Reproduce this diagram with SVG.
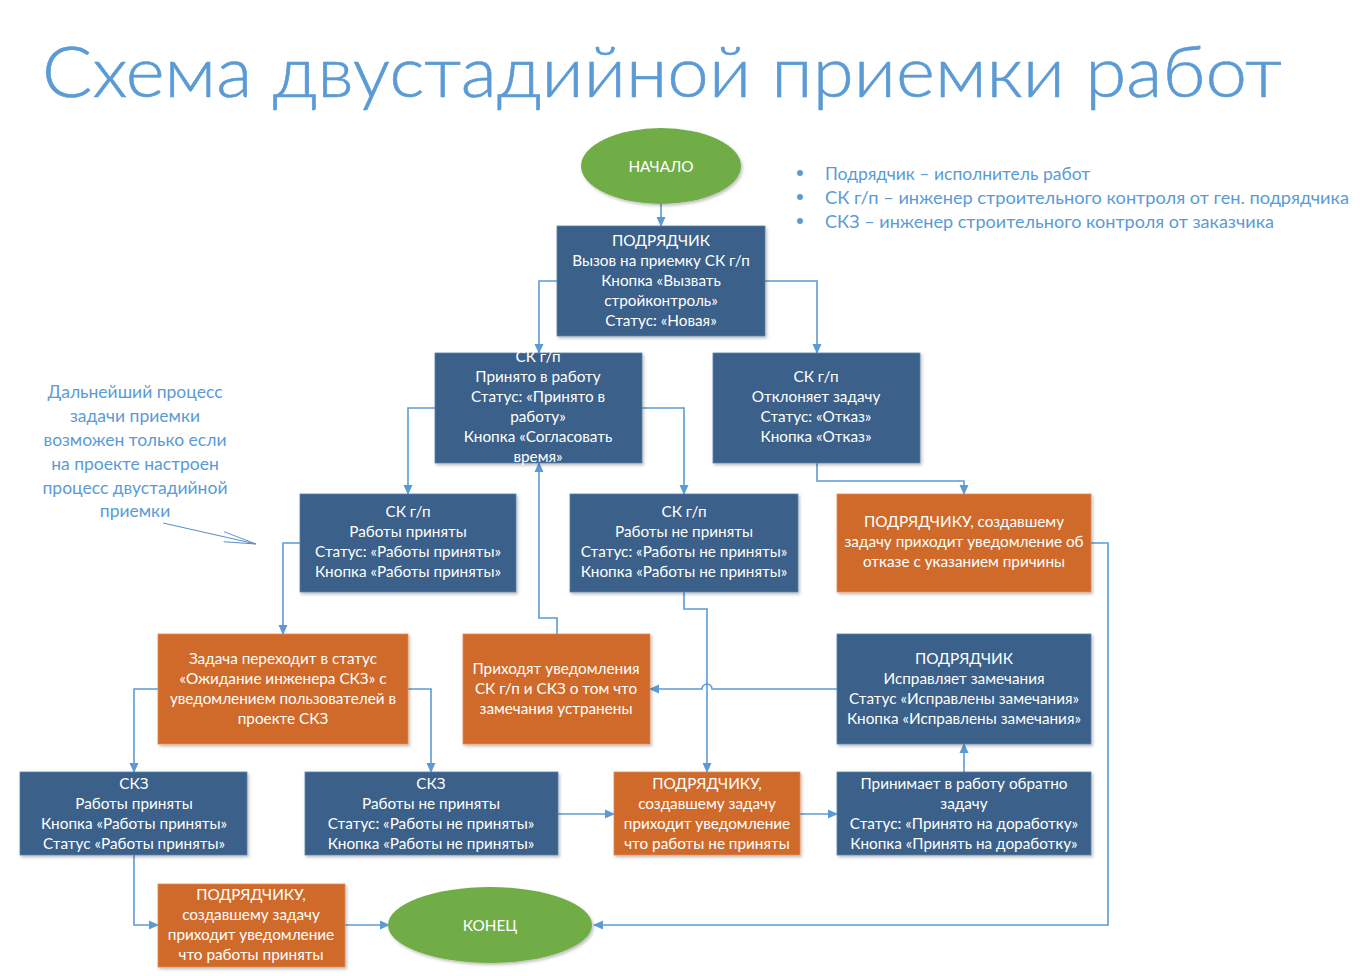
<svg xmlns="http://www.w3.org/2000/svg" width="1360" height="976" viewBox="0 0 1360 976">
<style>
.t{font-family:Lato,"Open Sans","Liberation Sans",sans-serif;fill:#fff;font-size:15.3px;text-anchor:middle;dominant-baseline:central}
.b{fill:#3A6189;stroke:#5a80aa;stroke-width:0.8}
.o{fill:#D06A2B;stroke:#e08a55;stroke-width:0.8}
.g{fill:#70AD47}
.c{fill:none;stroke:#5B9BD5;stroke-width:1.6}
.lg{font-family:Lato,"Open Sans","Liberation Sans",sans-serif;fill:#5B9BD5;font-size:17.5px}
</style>
<defs>
<marker id="ah" markerWidth="10" markerHeight="10" refX="9" refY="5" orient="auto" markerUnits="userSpaceOnUse">
<path d="M0,0.5 L10,5 L0,9.5 Z" fill="#5B9BD5"/>
</marker>
<marker id="oa" markerWidth="36" markerHeight="12" refX="34" refY="6" orient="auto" markerUnits="userSpaceOnUse">
<path d="M0,1 L34,6 L2,11" fill="none" stroke="#5B8CC5" stroke-width="1"/>
</marker>
<filter id="sh" x="-10%" y="-10%" width="130%" height="130%">
<feDropShadow dx="1.5" dy="2" stdDeviation="1.5" flood-color="#000" flood-opacity="0.25"/>
</filter>
</defs>
<rect width="1360" height="976" fill="#fff"/>
<text x="42" y="97" font-family="Lato,'Open Sans','Liberation Sans',sans-serif" font-weight="300" font-size="70" fill="#5B9BD5" stroke="#5B9BD5" stroke-width="0.6" textLength="1240" lengthAdjust="spacingAndGlyphs">Схема двустадийной приемки работ</text>

<g id="legend">
<circle cx="800" cy="173" r="3" fill="#5B9BD5"/>
<circle cx="800" cy="197" r="3" fill="#5B9BD5"/>
<circle cx="800" cy="221" r="3" fill="#5B9BD5"/>
<text class="lg" x="825" y="180">Подрядчик – исполнитель работ</text>
<text class="lg" x="825" y="204" textLength="524" lengthAdjust="spacingAndGlyphs">СК г/п – инженер строительного контроля от ген. подрядчика</text>
<text class="lg" x="825" y="228" textLength="449" lengthAdjust="spacingAndGlyphs">СКЗ – инженер строительного контроля от заказчика</text>
</g>

<g id="note">
<g class="lg" text-anchor="middle">
<text x="135" y="398">Дальнейший процесс</text>
<text x="135" y="422">задачи приемки</text>
<text x="135" y="446">возможен только если</text>
<text x="135" y="470">на проекте настроен</text>
<text x="135" y="494">процесс двустадийной</text>
<text x="135" y="517">приемки</text>
</g>
<line x1="163" y1="523" x2="256" y2="544" stroke="#5B8CC5" stroke-width="1" marker-end="url(#oa)"/>
</g>

<g id="connectors">
<path class="c" d="M661,204 V226" marker-end="url(#ah)"/>
<path class="c" d="M557,281 H539 V353" marker-end="url(#ah)"/>
<path class="c" d="M765,281 H817 V353" marker-end="url(#ah)"/>
<path class="c" d="M435,408 H408 V494" marker-end="url(#ah)"/>
<path class="c" d="M642,408 H684 V494" marker-end="url(#ah)"/>
<path class="c" d="M817,463 V481 H964 V494" marker-end="url(#ah)"/>
<path class="c" d="M1091,543 H1108 V925 H594" marker-end="url(#ah)"/>
<path class="c" d="M300,543 H283 V634" marker-end="url(#ah)"/>
<path class="c" d="M557,634 V618 H539 V463" marker-end="url(#ah)"/>
<path class="c" d="M684,592 V609 H707 V772" marker-end="url(#ah)"/>
<path class="c" d="M837,689 H712 A5,5 0 0 0 702,689 H650" marker-end="url(#ah)"/>
<path class="c" d="M158,689 H134 V772" marker-end="url(#ah)"/>
<path class="c" d="M408,689 H431 V772" marker-end="url(#ah)"/>
<path class="c" d="M558,814 H614" marker-end="url(#ah)"/>
<path class="c" d="M800,814 H837" marker-end="url(#ah)"/>
<path class="c" d="M964,772 V744" marker-end="url(#ah)"/>
<path class="c" d="M134,855 V925 H158" marker-end="url(#ah)"/>
<path class="c" d="M345,925 H389" marker-end="url(#ah)"/>
</g>

<g id="start">
<ellipse class="g" cx="661" cy="166" rx="80" ry="38" filter="url(#sh)"/>
<text class="t" x="661" y="166">НАЧАЛО</text>
</g>

<g id="n1">
<rect class="b" x="557" y="226" width="208" height="110" filter="url(#sh)"/>
<text class="t" x="661" y="240">ПОДРЯДЧИК</text>
<text class="t" x="661" y="260">Вызов на приемку СК г/п</text>
<text class="t" x="661" y="280">Кнопка «Вызвать</text>
<text class="t" x="661" y="300">стройконтроль»</text>
<text class="t" x="661" y="320">Статус: «Новая»</text>
</g>

<g id="n2">
<rect class="b" x="435" y="353" width="207" height="110" filter="url(#sh)"/>
<text class="t" x="538" y="356">СК г/п</text>
<text class="t" x="538" y="376">Принято в работу</text>
<text class="t" x="538" y="396">Статус: «Принято в</text>
<text class="t" x="538" y="416">работу»</text>
<text class="t" x="538" y="436">Кнопка «Согласовать</text>
<text class="t" x="538" y="456">время»</text>
</g>

<g id="n3">
<rect class="b" x="713" y="353" width="207" height="110" filter="url(#sh)"/>
<text class="t" x="816" y="376">СК г/п</text>
<text class="t" x="816" y="396">Отклоняет задачу</text>
<text class="t" x="816" y="416">Статус: «Отказ»</text>
<text class="t" x="816" y="436">Кнопка «Отказ»</text>
</g>

<g id="n4">
<rect class="b" x="300" y="494" width="216" height="98" filter="url(#sh)"/>
<text class="t" x="408" y="511">СК г/п</text>
<text class="t" x="408" y="531">Работы приняты</text>
<text class="t" x="408" y="551">Статус: «Работы приняты»</text>
<text class="t" x="408" y="571">Кнопка «Работы приняты»</text>
</g>

<g id="n5">
<rect class="b" x="570" y="494" width="228" height="98" filter="url(#sh)"/>
<text class="t" x="684" y="511">СК г/п</text>
<text class="t" x="684" y="531">Работы не приняты</text>
<text class="t" x="684" y="551">Статус: «Работы не приняты»</text>
<text class="t" x="684" y="571">Кнопка «Работы не приняты»</text>
</g>

<g id="n6">
<rect class="o" x="837" y="494" width="254" height="98" filter="url(#sh)"/>
<text class="t" x="964" y="521">ПОДРЯДЧИКУ, создавшему</text>
<text class="t" x="964" y="541">задачу приходит уведомление об</text>
<text class="t" x="964" y="561">отказе с указанием причины</text>
</g>

<g id="n7">
<rect class="o" x="158" y="634" width="250" height="110" filter="url(#sh)"/>
<text class="t" x="283" y="658">Задача переходит в статус</text>
<text class="t" x="283" y="678">«Ожидание инженера СКЗ» с</text>
<text class="t" x="283" y="698">уведомлением пользователей в</text>
<text class="t" x="283" y="718">проекте СКЗ</text>
</g>

<g id="n8">
<rect class="o" x="463" y="634" width="187" height="110" filter="url(#sh)"/>
<text class="t" x="556" y="668">Приходят уведомления</text>
<text class="t" x="556" y="688">СК г/п и СКЗ о том что</text>
<text class="t" x="556" y="708">замечания устранены</text>
</g>

<g id="n9">
<rect class="b" x="837" y="634" width="254" height="110" filter="url(#sh)"/>
<text class="t" x="964" y="658">ПОДРЯДЧИК</text>
<text class="t" x="964" y="678">Исправляет замечания</text>
<text class="t" x="964" y="698">Статус «Исправлены замечания»</text>
<text class="t" x="964" y="718">Кнопка «Исправлены замечания»</text>
</g>

<g id="n10">
<rect class="b" x="20" y="772" width="227" height="83" filter="url(#sh)"/>
<text class="t" x="134" y="783">СКЗ</text>
<text class="t" x="134" y="803">Работы приняты</text>
<text class="t" x="134" y="823">Кнопка «Работы приняты»</text>
<text class="t" x="134" y="843">Статус «Работы приняты»</text>
</g>

<g id="n11">
<rect class="b" x="305" y="772" width="253" height="83" filter="url(#sh)"/>
<text class="t" x="431" y="783">СКЗ</text>
<text class="t" x="431" y="803">Работы не приняты</text>
<text class="t" x="431" y="823">Статус: «Работы не приняты»</text>
<text class="t" x="431" y="843">Кнопка «Работы не приняты»</text>
</g>

<g id="n12">
<rect class="o" x="614" y="772" width="186" height="83" filter="url(#sh)"/>
<text class="t" x="707" y="783">ПОДРЯДЧИКУ,</text>
<text class="t" x="707" y="803">создавшему задачу</text>
<text class="t" x="707" y="823">приходит уведомление</text>
<text class="t" x="707" y="843">что работы не приняты</text>
</g>

<g id="n13">
<rect class="b" x="837" y="772" width="254" height="83" filter="url(#sh)"/>
<text class="t" x="964" y="783">Принимает в работу обратно</text>
<text class="t" x="964" y="803">задачу</text>
<text class="t" x="964" y="823">Статус: «Принято на доработку»</text>
<text class="t" x="964" y="843">Кнопка «Принять на доработку»</text>
</g>

<g id="n14">
<rect class="o" x="158" y="884" width="187" height="83" filter="url(#sh)"/>
<text class="t" x="251" y="894">ПОДРЯДЧИКУ,</text>
<text class="t" x="251" y="914">создавшему задачу</text>
<text class="t" x="251" y="934">приходит уведомление</text>
<text class="t" x="251" y="954">что работы приняты</text>
</g>

<g id="end">
<ellipse class="g" cx="490" cy="925" rx="102" ry="38" filter="url(#sh)"/>
<text class="t" x="490" y="925">КОНЕЦ</text>
</g>
</svg>
